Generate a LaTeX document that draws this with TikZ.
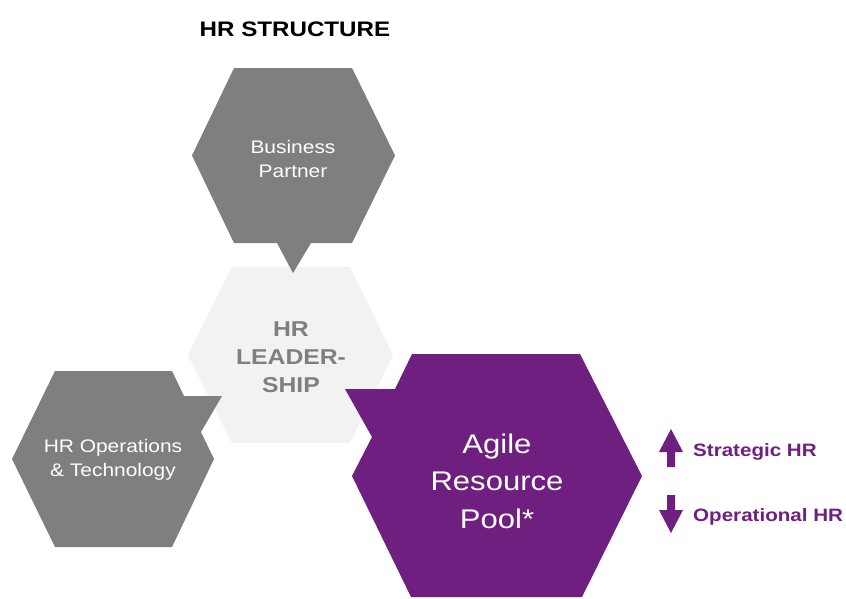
\documentclass[tikz,border=0pt]{standalone}
\usepackage{fontspec}
\setmainfont{Liberation Sans}[FakeStretch=1.15]
\usetikzlibrary{positioning}

\definecolor{hrgray}{HTML}{7F7F7F}
\definecolor{hrlight}{HTML}{F2F2F2}
\definecolor{hrpurple}{HTML}{6F1F7F}

\begin{document}
\begin{tikzpicture}[x = 1pt, y = -1pt, % one unit per pixel, y going down
                every node/.style = {align = center, inner sep = 0pt}
            ]

            \tikzstyle{hexlabel}=[text = white, font = \fontsize{18.2}{24}\selectfont]
            \tikzstyle{legend}=[text = hrpurple, anchor = base west,
            font = \bfseries\fontsize{17.9}{20}\selectfont]

            \useasboundingbox (0,0) rectangle (846,598);

            % hexagons, the back one first
            \fill[hrlight] (232,267) -- (350,267) -- (393,355) -- (350,443)
            -- (232,443) -- (188,355) -- cycle;
            \fill[hrgray] (234,68) -- (352,68) -- (395,155.5) -- (352,243)
            -- (311,243) -- (293,273) -- (277,243) -- (234,243) -- (192,155.5)
            -- cycle;
            \fill[hrgray] (55,371) -- (172,371) -- (184,396) -- (222,396) --
            (201,432) -- (214,459) -- (172,547) -- (55,547) -- (12,459) --
            cycle;
            \fill[hrpurple] (412,354) -- (580,354) -- (642,476) -- (582,597)
            -- (411,597) -- (352,476) -- (372,437) -- (345,389) -- (395,389)
            -- cycle;

            \node (title) [anchor = base, font = \bfseries\fontsize{21}{24}\selectfont]
            at (295,36) {HR STRUCTURE};
            \node (bp) [hexlabel] at (293,159) {Business\\Partner};
            \node (lead) [text = hrgray, font = \bfseries\fontsize{21.5}{28}\selectfont]
            at (291,357.5) {HR\\LEADER-\\SHIP};
            \node (ops) [hexlabel] at (113,460) {HR Operations\\\& Technology};
            \node (arp) [text = white, font = \fontsize{27}{37.5}\selectfont]
            at (497,481) {Agile\\Resource\\Pool*};

            % legend arrows
            \fill[hrpurple] (671,429) -- (683,452) -- (675,452) -- (675,467)
            -- (667,467) -- (667,452) -- (659,452) -- cycle;
            \fill[hrpurple] (671,533) -- (683,510) -- (675,510) -- (675,495)
            -- (667,495) -- (667,510) -- (659,510) -- cycle;
            \node (up) [legend] at (693,456) {Strategic HR};
            \node (down) [legend] at (693,521.5) {Operational HR};
\end{tikzpicture}
\end{document}
